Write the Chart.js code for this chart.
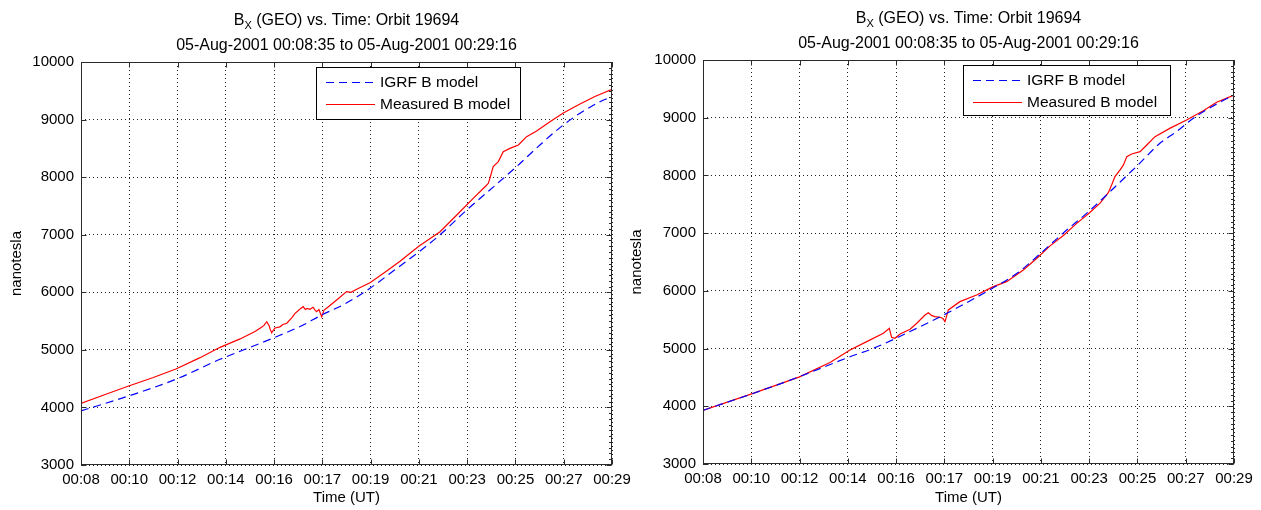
<!DOCTYPE html>
<html><head><meta charset="utf-8">
<script src="https://cdn.jsdelivr.net/npm/chart.js@4.4.1/dist/chart.umd.min.js"></script>
<style>
html,body{margin:0;padding:0;background:#fff;width:1261px;height:510px;overflow:hidden}
.wrap{position:absolute;top:0;height:510px}
canvas{display:block}
</style></head>
<body>
<div class="wrap" style="left:0;width:645px"><canvas id="c1" width="645" height="510"></canvas></div>
<div class="wrap" style="left:620px;width:641px"><canvas id="c2" width="641" height="510"></canvas></div>
<script>
// ---- text ----
const titleMain = 'B';
const titleSubscript = 'X';
const titleRest = ' (GEO) vs. Time: Orbit 19694';
const titleSecond = '05-Aug-2001 00:08:35 to 05-Aug-2001 00:29:16';
const xAxisTitle = 'Time (UT)';
const yAxisTitle = 'nanotesla';
const seriesNames = ['IGRF B model', 'Measured B model'];
const xTickLabels = ['00:08','00:10','00:12','00:14','00:16','00:17','00:19','00:21','00:23','00:25','00:27','00:29'];
const timeStart = 8 + 35/60;   // 00:08:35 (minutes)
const timeEnd = 29 + 16/60;    // 00:29:16 (minutes)
const yMin = 3000, yMax = 10000, yStep = 1000, yMinorStep = 100;

// ---- left panel data (time in minutes after 00:00 UT, nT) ----
const leftMeasTime = [8.58,9.5,10.44,11.4,12.28,13.2,14.0,14.78,15.36,15.6,15.7,15.82,15.91,15.95,16.01,16.14,16.33,16.45,16.6,16.8,16.92,17.04,17.14,17.24,17.32,17.39,17.5,17.62,17.7,17.76,17.85,17.96,18.05,18.15,18.54,18.93,19.1,19.32,19.84,20.49,21.01,21.74,22.57,23.22,23.86,24.36,24.45,24.51,24.64,24.84,25.03,25.29,25.62,25.94,26.33,26.85,27.37,28.02,28.6,29.27];
const leftMeasured = [4071,4220,4372,4520,4668,4860,5044,5190,5320,5390,5420,5489,5420,5360,5298,5380,5400,5440,5463,5560,5635,5680,5720,5750,5700,5720,5705,5740,5690,5663,5700,5576,5690,5722,5866,6011,6000,6052,6167,6370,6540,6800,7053,7343,7632,7850,7893,7980,8183,8270,8443,8500,8558,8703,8800,8964,9116,9270,9400,9526];
const leftIgrfTime = [8.58,10.44,12.28,14.0,15.3,16.04,17.24,17.96,18.87,19.84,20.81,21.74,22.57,23.61,24.51,25.55,26.46,27.24,28.02,28.8,29.27];
const leftIgrf = [3940,4199,4490,4836,5067,5200,5432,5606,5800,6070,6390,6700,7000,7430,7777,8183,8558,8860,9110,9310,9400];

// ---- right panel data ----
const rightMeasTime = [8.58,10.45,12.32,13.53,14.31,14.96,15.61,15.84,15.93,16.06,16.26,16.65,16.91,17.23,17.36,17.5,17.62,17.81,17.93,18.01,18.14,18.59,19.24,19.89,20.41,21.06,21.58,22.1,22.62,23.14,23.63,24.05,24.37,24.5,24.63,24.83,24.96,25.09,25.28,25.61,25.87,26.19,26.78,27.42,28.07,28.59,29.27];
const rightMeasured = [3930,4210,4505,4760,4976,5120,5265,5351,5195,5178,5253,5334,5438,5582,5622,5570,5553,5542,5520,5466,5669,5813,5929,6073,6160,6362,6560,6780,6960,7170,7350,7520,7700,7835,7979,8095,8182,8326,8372,8412,8528,8672,8820,8960,9120,9267,9394];
const rightIgrfTime = [8.58,9.05,10.45,12.32,14.31,15.2,16.91,18.08,19.68,20.8,21.71,22.61,23.62,24.44,25.1,25.53,26.38,27.03,27.71,28.56,29.27];
const rightIgrf = [3930,4000,4210,4510,4859,5000,5351,5611,6000,6300,6640,7000,7380,7719,8000,8182,8557,8759,9000,9230,9394];

const FONT = "'Liberation Sans', Arial, Helvetica, sans-serif";
const AX = '#2a2a2a';

function pts(t, v) { return t.map((x, i) => ({x: x, y: v[i]})); }

const matlabPlugin = {
  id: 'matlab',
  afterDraw(chart, args, opts) {
    const ctx = chart.ctx, a = chart.chartArea;
    const xs = chart.scales.x, ys = chart.scales.y;
    ctx.save();
    ctx.setLineDash([]);
    ctx.strokeStyle = AX; ctx.lineWidth = 1;
    const L = Math.round(a.left) + 0.5, R = Math.round(a.right) - 0.5, T = Math.round(a.top) + 0.5, B = Math.round(a.bottom) - 0.5;
    ctx.strokeRect(L, T, R - L, B - T);
    ctx.beginPath();
    xs.ticks.forEach(t => {
      const px = Math.round(xs.getPixelForValue(t.value)) + 0.5;
      ctx.moveTo(px, B); ctx.lineTo(px, B - 5);
      ctx.moveTo(px, T); ctx.lineTo(px, T + 5);
    });
    ys.ticks.forEach(t => {
      const py = Math.round(ys.getPixelForValue(t.value)) + 0.5;
      ctx.moveTo(L, py); ctx.lineTo(L + 5, py);
      ctx.moveTo(R, py); ctx.lineTo(R - 5, py);
    });
    for (let v = yMin; v <= yMax; v += yMinorStep) {
      const py = Math.round(ys.getPixelForValue(v)) + 0.5;
      ctx.moveTo(R, py); ctx.lineTo(R - 2.5, py);
    }
    ctx.stroke();

    const cx = (a.left + a.right) / 2;
    ctx.fillStyle = '#000';
    ctx.textBaseline = 'alphabetic';
    ctx.font = '16px ' + FONT;
    const wB = ctx.measureText(titleMain).width;
    const wR = ctx.measureText(titleRest).width;
    ctx.font = '11px ' + FONT;
    const wX = ctx.measureText(titleSubscript).width;
    let x0 = cx - (wB + wX + wR) / 2;
    const b1 = a.top - 37;
    ctx.font = '16px ' + FONT; ctx.textAlign = 'left';
    ctx.fillText(titleMain, x0, b1);
    ctx.font = '11px ' + FONT;
    ctx.fillText(titleSubscript, x0 + wB, b1 + 4);
    ctx.font = '16px ' + FONT;
    ctx.fillText(titleRest, x0 + wB + wX, b1);
    ctx.textAlign = 'center';
    ctx.fillText(titleSecond, cx, a.top - 12);

    const lg = opts.legend;
    ctx.fillStyle = '#fff';
    ctx.fillRect(lg.x + 0.5, lg.y + 0.5, lg.w, lg.h);
    ctx.strokeStyle = '#000'; ctx.lineWidth = 1;
    ctx.strokeRect(lg.x + 0.5, lg.y + 0.5, lg.w, lg.h);
    ctx.textAlign = 'left'; ctx.textBaseline = 'middle';
    ctx.font = '15.5px ' + FONT;
    chart.data.datasets.forEach((ds, i) => {
      const ry = Math.round(lg.y + lg.rowY[i]);
      ctx.fillStyle = ds.borderColor;
      const dash = ds.borderDash && ds.borderDash.length ? ds.borderDash : [49, 0];
      let px = lg.x + 10, on = true, k = 0;
      while (px < lg.x + 59) {
        const len = Math.min(dash[k % dash.length], lg.x + 59 - px);
        if (on) ctx.fillRect(px, ry, len, 1);
        px += len; on = !on; k++;
        if (dash[1] === 0) on = true;
      }
      ctx.fillStyle = '#000';
      ctx.fillText(ds.label, lg.x + 64, ry + 0.5);
    });
    ctx.restore();
  }
};

function makeChart(id, measT, measV, igrfT, igrfV, yAxisW, padRight, top, xAxisH, legend) {
  return new Chart(document.getElementById(id), {
    type: 'line',
    data: {
      datasets: [
        { label: seriesNames[0], data: pts(igrfT, igrfV), borderColor: '#0000ff', borderWidth: 1.2, borderDash: [8, 5], pointRadius: 0, cubicInterpolationMode: 'monotone', fill: false },
        { label: seriesNames[1], data: pts(measT, measV), borderColor: '#ff0000', borderWidth: 1.2, pointRadius: 0, tension: 0, fill: false }
      ]
    },
    options: {
      responsive: false, animation: false, devicePixelRatio: 1,
      layout: { padding: { left: 0, right: padRight, top: top, bottom: 0 } },
      plugins: { legend: { display: false }, title: { display: false }, tooltip: { enabled: false }, matlab: { legend: legend } },
      scales: {
        x: {
          type: 'linear', min: timeStart, max: timeEnd,
          afterBuildTicks: s => { s.ticks = xTickLabels.map((_, i) => ({ value: timeStart + i * (timeEnd - timeStart) / (xTickLabels.length - 1) })); },
          afterFit: s => { s.height = xAxisH; },
          ticks: { autoSkip: false, maxRotation: 0, padding: 6, color: '#000', font: { family: FONT, size: 15 }, callback: (v, i) => xTickLabels[i] },
          grid: { color: '#222', lineWidth: 1, drawTicks: false },
          border: { display: false, dash: [1, 3] },
          title: { display: true, text: xAxisTitle, color: '#000', font: { family: FONT, size: 15, lineHeight: 1.2 }, padding: { top: 0, bottom: 3 } }
        },
        y: {
          min: yMin, max: yMax,
          afterFit: s => { s.width = yAxisW; },
          ticks: { stepSize: yStep, padding: 7, color: '#000', font: { family: FONT, size: 15 }, callback: v => String(v) },
          grid: { color: '#222', lineWidth: 1, drawTicks: false },
          border: { display: false, dash: [1, 3] },
          title: { display: true, text: yAxisTitle, color: '#000', font: { family: FONT, size: 15, lineHeight: 1.2 }, padding: { top: 8, bottom: 0 } }
        }
      }
    },
    plugins: [matlabPlugin]
  });
}

makeChart('c1', leftMeasTime, leftMeasured, leftIgrfTime, leftIgrf, 81, 33, 62, 45,
  { x: 316, y: 67, w: 204, h: 52, rowY: [15, 37] });
makeChart('c2', rightMeasTime, rightMeasured, rightIgrfTime, rightIgrf, 83, 27, 60, 46,
  { x: 343, y: 65, w: 207, h: 50, rowY: [15, 37] });
</script>
</body></html>
